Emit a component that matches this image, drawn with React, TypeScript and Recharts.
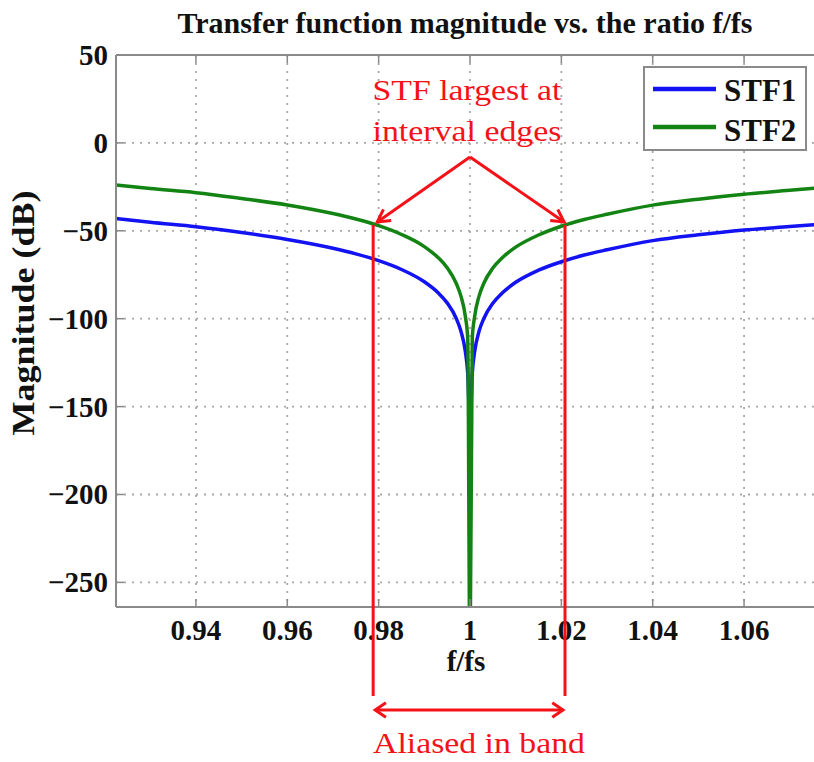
import React from 'react';
import { LineChart, Line, XAxis, YAxis, CartesianGrid, Legend } from 'recharts';

// f/fs sample points and magnitudes (dB)
const freqRatio = [
  0.9225, 0.93, 0.94, 0.95, 0.96, 0.97, 0.975, 0.98, 0.985, 0.99, 0.993, 0.995, 0.997, 0.998, 0.999, 0.9995,
  1.0,
  1.0005, 1.001, 1.002, 1.003, 1.005, 1.007, 1.01, 1.015, 1.02, 1.025, 1.03, 1.04, 1.05, 1.06, 1.07, 1.0775,
];
const stf1 = [
  -43.0, -45.2, -47.7, -51.0, -54.9, -59.9, -63.1, -67.0, -72.0, -79.0, -85.2, -91.0, -99.9, -107, -119, -131,
  -160,
  -131, -119, -107, -100, -91.2, -85.5, -79.3, -72.4, -67.6, -63.8, -60.8, -55.6, -52.3, -49.6, -47.6, -46.1,
];
const stf2 = [
  -24.0, -26.0, -28.3, -31.6, -35.3, -40.2, -43.3, -47.1, -52.1, -59.0, -65.2, -71.0, -80.0, -87, -99, -111,
  -300,
  -111, -99, -87, -80, -71.2, -65.5, -59.3, -52.4, -47.4, -43.6, -40.6, -35.4, -32.0, -29.2, -27.0, -25.3,
];

const xTicks = [0.94, 0.96, 0.98, 1, 1.02, 1.04, 1.06];
const yTicks = [-250, -200, -150, -100, -50, 0, 50];
const xDomain: [number, number] = [0.9225, 1.0775];
const yDomain: [number, number] = [-264, 50];

// annotation anchors (data units)
const bandEdges = [0.9788, 1.0208];
const arrowTips = [0.9797, 1.0206];
const arrowTipLevel = -45;
const arrowApex = { x: 1.0, y: -8 };
const edgeLevel = -46.7;

const data = freqRatio.map((f, i) => ({ f, stf1: stf1[i], stf2: stf2[i] }));

const W = 830;
const H = 762;
const M = { top: 54, right: 6, bottom: 154, left: 115 };
const plot = { left: 116, right: W - M.right, top: 55, bottom: 607 };

const FONT = '"Liberation Serif", "Times New Roman", serif';
const AXIS = '#8a8a8a';
const RED = '#f41218';
const BLUE = '#1212f2';
const GREEN = '#138413';

const xPx = (v: number) => plot.left + ((v - xDomain[0]) / (xDomain[1] - xDomain[0])) * (plot.right - plot.left);
const yPx = (v: number) => plot.top + ((yDomain[1] - v) / (yDomain[1] - yDomain[0])) * (plot.bottom - plot.top);

const fmtY = (v: number) => (v < 0 ? '\u2212' + Math.abs(v) : String(v));

const BottomTick = (props: any) => {
  const { x, y, payload } = props;
  return (
    <g>
      <line x1={x} x2={x} y1={y} y2={y - 8} stroke={AXIS} strokeWidth={1.5} />
      <text x={x} y={y + 33} textAnchor="middle" fontFamily={FONT} fontWeight="bold" fontSize={29} fill="#111">
        {String(payload.value)}
      </text>
    </g>
  );
};

const TopTick = (props: any) => {
  const { x, y } = props;
  return <line x1={x} x2={x} y1={y} y2={y + 8} stroke={AXIS} strokeWidth={1.5} />;
};

const LeftTick = (props: any) => {
  const { x, y, payload } = props;
  return (
    <g>
      <line x1={x} x2={x + 8} y1={y} y2={y} stroke={AXIS} strokeWidth={1.5} />
      <text x={x - 8} y={y + 10} textAnchor="end" fontFamily={FONT} fontWeight="bold" fontSize={29} fill="#111">
        {fmtY(payload.value)}
      </text>
    </g>
  );
};

const LegendBox = (props: any) => {
  const { payload } = props;
  return (
    <div
      style={{
        width: 164,
        height: 85,
        boxSizing: 'border-box',
        border: `2px solid ${AXIS}`,
        background: '#fff',
      }}
    >
      <svg width={160} height={81}>
        {(payload || []).map((p: any, i: number) => (
          <g key={p.value}>
            <line x1={8} x2={71} y1={21 + i * 38} y2={21 + i * 38} stroke={p.color} strokeWidth={4.5} />
            <text x={79} y={33 + i * 40} fontFamily={FONT} fontWeight="bold" fontSize={31} fill="#111">
              {p.value}
            </text>
          </g>
        ))}
      </svg>
    </div>
  );
};

const head = (tx: number, ty: number, fx: number, fy: number, len = 14, spread = 0.5) => {
  const a = Math.atan2(fy - ty, fx - tx);
  const p1 = [tx + len * Math.cos(a + spread), ty + len * Math.sin(a + spread)];
  const p2 = [tx + len * Math.cos(a - spread), ty + len * Math.sin(a - spread)];
  return `M${p1[0]},${p1[1]} L${tx},${ty} L${p2[0]},${p2[1]}`;
};

const Overlay = () => {
  const apexX = xPx(arrowApex.x);
  const apexY = yPx(arrowApex.y);
  const tipY = yPx(arrowTipLevel);
  const lx = xPx(bandEdges[0]);
  const rx = xPx(bandEdges[1]);
  const lineTop = yPx(edgeLevel);
  const lineBottom = 696;
  const arrowY = 710;
  return (
    <svg
      width={814}
      height={762}
      style={{ position: 'absolute', left: 0, top: 0, pointerEvents: 'none' }}
    >
      <text x={465} y={33} textAnchor="middle" fontFamily={FONT} fontWeight="bold" fontSize={30} fill="#111"
        textLength={575} lengthAdjust="spacingAndGlyphs">
        Transfer function magnitude vs. the ratio f/fs
      </text>
      <text x={34} y={313} transform="rotate(-90 34 313)" textAnchor="middle" fontFamily={FONT}
        fontWeight="bold" fontSize={32} fill="#111" textLength={245} lengthAdjust="spacingAndGlyphs">
        Magnitude (dB)
      </text>
      <text x={466} y={671} textAnchor="middle" fontFamily={FONT} fontWeight="bold" fontSize={29} fill="#111">
        f/fs
      </text>

      {/* top annotation */}
      <text x={467} y={100} textAnchor="middle" fontFamily={FONT} fontSize={30} fill={RED}
        textLength={189} lengthAdjust="spacingAndGlyphs">
        STF largest at
      </text>
      <text x={467} y={141} textAnchor="middle" fontFamily={FONT} fontSize={30} fill={RED}
        textLength={189} lengthAdjust="spacingAndGlyphs">
        interval edges
      </text>
      {arrowTips.map((t) => {
        const tx = xPx(t);
        return (
          <g key={t} stroke={RED} strokeWidth={3} fill="none">
            <line x1={apexX} y1={apexY} x2={tx} y2={tipY} />
            <path d={head(tx, tipY, apexX, apexY)} />
          </g>
        );
      })}

      {/* aliased band */}
      <g stroke={RED} strokeWidth={3} fill="none">
        <line x1={lx} x2={lx} y1={lineTop} y2={lineBottom} />
        <line x1={rx} x2={rx} y1={lineTop} y2={lineBottom} />
        <line x1={lx + 2} x2={rx - 2} y1={arrowY} y2={arrowY} />
        <path d={head(lx + 2, arrowY, rx, arrowY, 13, 0.6)} />
        <path d={head(rx - 2, arrowY, lx, arrowY, 13, 0.6)} />
      </g>
      <text x={479} y={753} textAnchor="middle" fontFamily={FONT} fontSize={30} fill={RED}
        textLength={212} lengthAdjust="spacingAndGlyphs">
        Aliased in band
      </text>
    </svg>
  );
};

export default function App() {
  return (
    <div
      style={{
        position: 'absolute',
        left: 0,
        top: 0,
        width: 814,
        height: 762,
        overflow: 'hidden',
        background: '#fff',
      }}
    >
      <LineChart width={W} height={H} data={data} margin={M}>
        <CartesianGrid stroke="#a8a8a8" strokeWidth={1.8} strokeDasharray="2 6" />
        <XAxis
          dataKey="f"
          type="number"
          domain={xDomain}
          ticks={xTicks}
          allowDataOverflow
          height={1}
          tickSize={0}
          tickMargin={0}
          tickLine={false}
          axisLine={{ stroke: AXIS, strokeWidth: 2 }}
          tick={<BottomTick />}
          interval={0}
        />
        <XAxis
          xAxisId="top"
          orientation="top"
          dataKey="f"
          type="number"
          domain={xDomain}
          ticks={xTicks}
          allowDataOverflow
          height={1}
          tickSize={0}
          tickMargin={0}
          tickLine={false}
          axisLine={{ stroke: AXIS, strokeWidth: 2 }}
          tick={<TopTick />}
          interval={0}
        />
        <YAxis
          type="number"
          domain={yDomain}
          ticks={yTicks}
          allowDataOverflow
          width={1}
          tickSize={0}
          tickMargin={0}
          tickLine={false}
          axisLine={{ stroke: AXIS, strokeWidth: 2 }}
          tick={<LeftTick />}
          interval={0}
        />
        <Legend
          layout="horizontal"
          verticalAlign="middle"
          align="center"
          content={<LegendBox />}
          wrapperStyle={{ position: 'absolute', left: 643, top: 66, width: 164, height: 85 }}
        />
        <Line
          type="monotone"
          dataKey="stf1"
          name="STF1"
          stroke={BLUE}
          strokeWidth={3.5}
          dot={false}
          isAnimationActive={false}
        />
        <Line
          type="monotone"
          dataKey="stf2"
          name="STF2"
          stroke={GREEN}
          strokeWidth={3.5}
          dot={false}
          isAnimationActive={false}
        />
      </LineChart>
      <Overlay />
    </div>
  );
}
